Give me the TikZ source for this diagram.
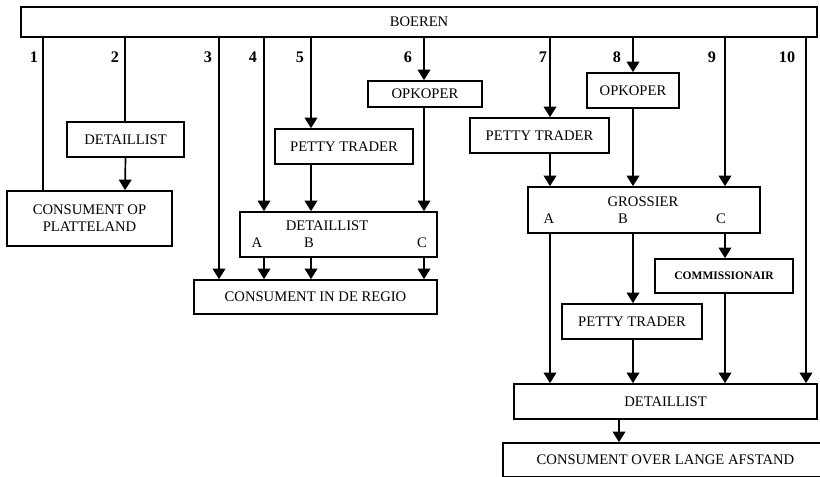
\documentclass[tikz,border=0pt]{standalone}
\usepackage{fontspec}
\setmainfont{Liberation Serif}
\usetikzlibrary{arrows.meta}
\newdimen\px
\px=0.025cm
\begin{document}
\begin{tikzpicture}[x=0.025cm,y=-0.025cm,
    box/.style={rectangle,draw,line width=1.2pt,inner sep=0pt,font=\fontsize{10.4}{12}\selectfont,align=center},
    num/.style={font=\fontsize{11.5}{13}\selectfont\bfseries},
    lab/.style={font=\fontsize{10.4}{12}\selectfont},
    arr/.style={line width=1.2pt,-{Triangle[width=9pt,length=7.5pt]}},
    ln/.style={line width=1.2pt}]
  \useasboundingbox (0,0) rectangle (820,476);

  \node[box,minimum width=796\px,minimum height=30\px] (boeren) at (419,22){BOEREN};

  % columns under BOEREN
  \coordinate (c1) at (43,37);
  \coordinate (c2) at (125,37);
  \coordinate (c3) at (219,37);
  \coordinate (c4) at (264,37);
  \coordinate (c5) at (311,37);
  \coordinate (c6) at (424,37);
  \coordinate (c7) at (550,37);
  \coordinate (c8) at (633,37);
  \coordinate (c9) at (725,37);
  \coordinate (c10) at (806,37);
  \coordinate (cA) at (619,419);

  \node[num] (n1) at (34,57){1};
  \node[num] (n2) at (115,57){2};
  \node[num] (n3) at (208,57){3};
  \node[num] (n4) at (253,57){4};
  \node[num] (n5) at (300,57){5};
  \node[num] (n6) at (408,57){6};
  \node[num] (n7) at (543,57){7};
  \node[num] (n8) at (617,57){8};
  \node[num] (n9) at (712,57){9};
  \node[num] (n10) at (787,57){10};

  %platteland
  \node[box,minimum width=117\px,minimum height=35\px] (detail2) at (125.5,139.5){DETAILLIST};
  \node[box,minimum width=165\px,minimum height=55\px] (platteland) at (89.5,218.5){CONSUMENT OP\\PLATTELAND};

  %regio
  \node[box,minimum width=138\px,minimum height=35\px] (petty5) at (344,146.5){PETTY TRADER};
  \node[box,minimum width=114\px,minimum height=26\px] (opkoper6) at (425,94){OPKOPER};
  \node[box,minimum width=197\px,minimum height=45\px] (detailR) at (338.5,234.5){};
  \node[lab] (tdetailR) at (327,226){DETAILLIST};
  \node[lab] (detailRa) at (257,243){A};
  \node[lab] (detailRb) at (309,243){B};
  \node[lab] (detailRc) at (422,243){C};
  \node[box,minimum width=243\px,minimum height=34\px] (regio) at (315.5,297){CONSUMENT IN DE REGIO};

  %lange afstand
  \node[box,minimum width=139\px,minimum height=35\px] (petty7) at (539.5,135.5){PETTY TRADER};
  \node[box,minimum width=92\px,minimum height=35\px] (opkoper8) at (633,90.5){OPKOPER};
  \node[box,minimum width=232\px,minimum height=46\px] (grossier) at (644,210){};
  \node[lab] (tgrossier) at (643,202){GROSSIER};
  \node[lab] (grossiera) at (549,219){A};
  \node[lab] (grossierb) at (623,219){B};
  \node[lab] (grossierc) at (721,219){C};
  \node[box,minimum width=138\px,minimum height=34\px,font=\fontsize{8.2}{10}\selectfont\bfseries] (commis) at (724,276){COMMISSIONAIR};
  \node[box,minimum width=140\px,minimum height=35\px] (pettyG) at (632,321.5){PETTY TRADER};
  \node[box,minimum width=303\px,minimum height=35\px] (detailA) at (665.5,401.5){DETAILLIST};
  \node[box,minimum width=325\px,minimum height=34\px] (afstand) at (665.5,460){CONSUMENT OVER LANGE AFSTAND};

  % channels 1-3
  \draw[ln] (c1) -- (c1 |- platteland.north);
  \draw[ln] (c2) -- (c2 |- detail2.north);
  \draw[arr] (detail2.south) -- (c2 |- platteland.north);
  \draw[arr] (c3) -- (c3 |- regio.north);

  % channels 4-6
  \draw[arr] (c4) -- (c4 |- detailR.north);
  \draw[arr] (c5) -- (c5 |- petty5.north);
  \draw[arr] (c5 |- petty5.south) -- (c5 |- detailR.north);
  \draw[arr] (c6) -- (c6 |- opkoper6.north);
  \draw[arr] (c6 |- opkoper6.south) -- (c6 |- detailR.north);
  \draw[arr] (c4 |- detailR.south) -- (c4 |- regio.north);
  \draw[arr] (c5 |- detailR.south) -- (c5 |- regio.north);
  \draw[arr] (c6 |- detailR.south) -- (c6 |- regio.north);

  % channels 7-10
  \draw[arr] (c7) -- (c7 |- petty7.north);
  \draw[arr] (c7 |- petty7.south) -- (c7 |- grossier.north);
  \draw[arr] (c8) -- (c8 |- opkoper8.north);
  \draw[arr] (c8 |- opkoper8.south) -- (c8 |- grossier.north);
  \draw[arr] (c9) -- (c9 |- grossier.north);
  \draw[arr] (c10) -- (c10 |- detailA.north);
  \draw[arr] (c7 |- grossier.south) -- (c7 |- detailA.north);
  \draw[arr] (c8 |- grossier.south) -- (c8 |- pettyG.north);
  \draw[arr] (c8 |- pettyG.south) -- (c8 |- detailA.north);
  \draw[arr] (c9 |- grossier.south) -- (c9 |- commis.north);
  \draw[arr] (c9 |- commis.south) -- (c9 |- detailA.north);
  \draw[arr] (cA) -- (cA |- afstand.north);

\end{tikzpicture}
\end{document}
